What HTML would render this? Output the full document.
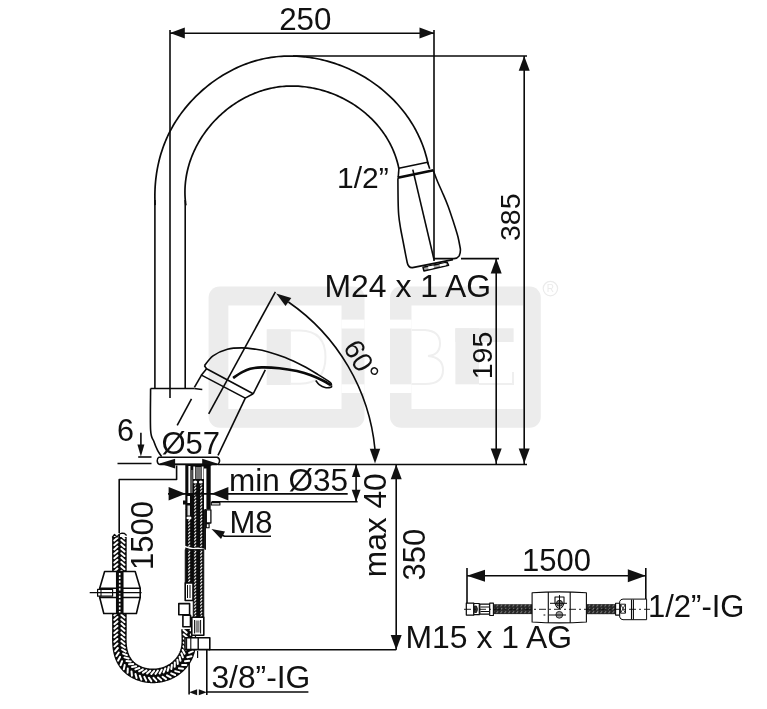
<!DOCTYPE html>
<html><head><meta charset="utf-8"><style>
html,body{margin:0;padding:0;background:#fff;}
svg{display:block;will-change:transform;}
text{font-family:"Liberation Sans", sans-serif;}
</style></head><body>
<svg width="767" height="709" viewBox="0 0 767 709">
<defs>
<pattern id="braid" width="3.6" height="6" patternUnits="userSpaceOnUse">
<rect width="3.6" height="6" fill="#0a0a0a"/>
<path d="M0.9,4.4 L2.6,1.8" stroke="#fff" stroke-width="1.3" stroke-linecap="round" fill="none"/>
<path d="M0.9,1.4 L2.6,-1.2 M0.9,7.4 L2.6,4.8" stroke="none" fill="none"/>
</pattern>
<pattern id="braidS" width="6" height="3.2" patternUnits="userSpaceOnUse">
<rect width="6" height="3.2" fill="#0a0a0a"/>
<path d="M2.6,2.4 L3.8,1.0" stroke="#fff" stroke-width="1.1" stroke-linecap="round" fill="none"/>
</pattern>
<pattern id="braidH" width="4" height="3.3" patternUnits="userSpaceOnUse">
<rect width="4" height="3.3" fill="#262626"/>
<path d="M0.5,2.6 L2.2,0.8" stroke="#8a8a8a" stroke-width="0.9" fill="none"/>
</pattern>
</defs>
<rect width="767" height="709" fill="#fff"/>
<g><rect x="208.6" y="286.6" width="155.9" height="141.2" rx="11" fill="#ececec"/>
<rect x="390" y="286.6" width="150.8" height="141.2" rx="11" fill="#ececec"/>
<rect x="228.4" y="305.5" width="113.1" height="103.5" fill="#fff"/>
<rect x="411.5" y="305.5" width="111.5" height="103.5" fill="#fff"/>
<rect x="341.5" y="319.6" width="23.0" height="8.9" fill="#fff"/>
<rect x="341.5" y="384.3" width="23.0" height="8.7" fill="#fff"/>
<rect x="390.0" y="319.6" width="21.5" height="8.9" fill="#fff"/>
<rect x="390.0" y="384.3" width="21.5" height="8.7" fill="#fff"/>
<rect x="266.7" y="329.2" width="24.1" height="55.8" fill="#ececec"/>
<path d="M290.8,330.5 L300,330.5 Q325.5,331 325.5,357 Q325.5,383.5 300,383.8 L290.8,383.8" fill="none" stroke="#efefef" stroke-width="2"/>
<path d="M411.5,330 L425,330 Q440,331 440,343.5 Q440,355 428,356 Q443,357.5 443,370 Q443,384 425,384 L411.5,384" fill="none" stroke="#efefef" stroke-width="2"/>
<rect x="455.4" y="328.3" width="58.2" height="13.7" fill="#ececec"/>
<rect x="455.4" y="328.3" width="23.6" height="56" fill="#ececec"/>
<path d="M479,384 L513,384 L513,372" fill="none" stroke="#efefef" stroke-width="2"/>
<circle cx="550.4" cy="288.6" r="7.2" fill="none" stroke="#ebebeb" stroke-width="1.2"/>
<text x="550.4" y="292.2" font-size="10" text-anchor="middle" fill="#ebebeb" font-family="Liberation Sans, sans-serif">R</text></g>
<g fill="none" stroke="#0a0a0a" stroke-width="1.6" stroke-linecap="butt" stroke-linejoin="round">
<line x1="170.0" y1="33.2" x2="434.0" y2="33.2"/>
<path fill="#111" stroke="none" d="M170.0,33.0 L184.8,27.5 L184.8,38.5 Z"/>
<path fill="#111" stroke="none" d="M434.3,33.0 L419.5,38.5 L419.5,27.5 Z"/>
<line x1="170.0" y1="30.0" x2="170.0" y2="398.0"/>
<line x1="434.0" y1="30.0" x2="434.0" y2="261.0"/>
<line x1="293.0" y1="56.0" x2="527.0" y2="56.0"/>
<line x1="524.2" y1="56.0" x2="524.2" y2="464.5"/>
<path fill="#111" stroke="none" d="M524.2,56.0 L529.7,70.8 L518.7,70.8 Z"/>
<path fill="#111" stroke="none" d="M524.2,463.2 L518.7,448.4 L529.7,448.4 Z"/>
<line x1="461.0" y1="258.6" x2="499.0" y2="258.6"/>
<line x1="496.2" y1="259.0" x2="496.2" y2="464.5"/>
<path fill="#111" stroke="none" d="M496.2,258.6 L501.7,273.4 L490.7,273.4 Z"/>
<path fill="#111" stroke="none" d="M496.2,463.2 L490.7,448.4 L501.7,448.4 Z"/>
<line x1="218.0" y1="464.5" x2="527.0" y2="464.5"/>
<line x1="154.9" y1="388.0" x2="154.9" y2="200.0"/>
<path d="M155.10,205.09 L154.98,202.44 L154.91,199.80 L154.87,197.16 L154.88,194.52 L154.93,191.89 L155.03,189.27 L155.16,186.66 L155.35,184.05 L155.57,181.46 L155.84,178.87 L156.16,176.29 L156.52,173.72 L156.92,171.16 L157.37,168.62 L157.86,166.08 L158.40,163.56 L158.99,161.05 L159.62,158.55 L160.29,156.06 L161.02,153.60 L161.79,151.14 L162.60,148.70 L163.46,146.28 L164.37,143.88 L165.33,141.49 L166.33,139.12 L167.38,136.76 L168.48,134.43 L169.62,132.12 L170.82,129.82 L172.06,127.55 L173.34,125.29 L174.68,123.06 L176.06,120.86 L177.48,118.67 L178.95,116.51 L180.46,114.38 L182.01,112.27 L183.60,110.19 L185.23,108.13 L186.90,106.11 L188.61,104.11 L190.36,102.14 L192.14,100.20 L193.96,98.30 L195.82,96.42 L197.71,94.58 L199.63,92.77 L201.59,91.00 L203.57,89.26 L205.59,87.56 L207.64,85.89 L209.71,84.26 L211.82,82.67 L213.95,81.12 L216.11,79.60 L218.30,78.13 L220.51,76.70 L222.74,75.31 L225.00,73.96 L227.28,72.65 L229.58,71.39 L231.90,70.18 L234.24,69.01 L236.60,67.88 L238.98,66.81 L241.38,65.78 L243.79,64.80 L246.22,63.87 L248.66,62.98 L251.12,62.15 L253.59,61.38 L256.07,60.65 L258.56,59.98 L261.07,59.36 L263.58,58.79 L266.11,58.28 L268.64,57.82 L271.18,57.41 L273.72,57.06 L276.27,56.76 L278.83,56.51 L281.39,56.31 L283.96,56.17 L286.52,56.07 L289.09,56.02 L291.66,56.03 L294.23,56.08 L296.80,56.18 L299.37,56.33 L301.94,56.54 L304.50,56.78 L307.06,57.08 L309.61,57.42 L312.16,57.81 L314.71,58.25 L317.25,58.74 L319.77,59.27 L322.30,59.84 L324.81,60.46 L327.31,61.13 L329.80,61.84 L332.28,62.59 L334.75,63.39 L337.20,64.23 L339.64,65.12 L342.07,66.05 L344.48,67.02 L346.87,68.03 L349.24,69.08 L351.60,70.18 L353.94,71.31 L356.26,72.49 L358.56,73.71 L360.84,74.97 L363.10,76.26 L365.33,77.60 L367.54,78.97 L369.73,80.39 L371.89,81.84 L374.02,83.33 L376.13,84.86 L378.21,86.42 L380.26,88.02 L382.29,89.66 L384.28,91.33 L386.25,93.04 L388.18,94.78 L390.08,96.56 L391.94,98.37 L393.78,100.22 L395.57,102.10 L397.34,104.02 L399.06,105.96 L400.75,107.95 L402.41,109.96 L404.02,112.00 L405.59,114.08 L407.13,116.19 L408.62,118.33 L410.07,120.50 L411.48,122.70 L412.85,124.93 L414.17,127.19 L415.45,129.47 L416.68,131.79 L417.86,134.14 L419.00,136.51 L420.09,138.91 L421.13,141.34 L422.12,143.80 L423.06,146.28 L423.95,148.79 L424.79,151.32 L425.57,153.88 L426.30,156.47 L426.98,159.08 L427.60,161.71 L428.16,164.37" stroke-width="1.7"/>
<line x1="185.2" y1="388.0" x2="185.2" y2="200.0"/>
<path d="M185.89,205.44 L185.61,203.32 L185.38,201.20 L185.20,199.08 L185.06,196.98 L184.98,194.87 L184.94,192.77 L184.95,190.68 L185.01,188.60 L185.11,186.52 L185.26,184.45 L185.45,182.39 L185.69,180.33 L185.97,178.29 L186.30,176.25 L186.66,174.23 L187.07,172.21 L187.52,170.21 L188.02,168.21 L188.55,166.23 L189.12,164.26 L189.73,162.31 L190.38,160.37 L191.07,158.44 L191.80,156.53 L192.57,154.63 L193.37,152.74 L194.20,150.88 L195.08,149.02 L195.98,147.19 L196.93,145.37 L197.90,143.57 L198.91,141.79 L199.96,140.03 L201.03,138.28 L202.14,136.56 L203.28,134.86 L204.45,133.17 L205.65,131.51 L206.88,129.87 L208.14,128.26 L209.43,126.66 L210.74,125.09 L212.08,123.54 L213.45,122.01 L214.85,120.51 L216.27,119.04 L217.72,117.59 L219.19,116.17 L220.69,114.77 L222.21,113.40 L223.76,112.06 L225.32,110.74 L226.91,109.46 L228.52,108.20 L230.15,106.97 L231.81,105.77 L233.48,104.61 L235.17,103.47 L236.88,102.37 L238.61,101.29 L240.36,100.25 L242.12,99.24 L243.90,98.27 L245.70,97.33 L247.51,96.42 L249.34,95.55 L251.18,94.71 L253.04,93.91 L254.90,93.14 L256.79,92.42 L258.68,91.73 L260.59,91.07 L262.51,90.46 L264.44,89.88 L266.38,89.34 L268.32,88.84 L270.28,88.39 L272.25,87.97 L274.22,87.59 L276.21,87.26 L278.20,86.96 L280.19,86.71 L282.19,86.50 L284.20,86.33 L286.21,86.19 L288.22,86.10 L290.24,86.05 L292.25,86.03 L294.27,86.05 L296.29,86.12 L298.31,86.22 L300.33,86.36 L302.35,86.53 L304.37,86.75 L306.38,87.00 L308.39,87.29 L310.40,87.61 L312.40,87.98 L314.40,88.38 L316.39,88.81 L318.37,89.28 L320.35,89.78 L322.31,90.33 L324.27,90.90 L326.22,91.51 L328.16,92.16 L330.09,92.83 L332.01,93.55 L333.92,94.29 L335.81,95.07 L337.69,95.89 L339.56,96.73 L341.41,97.61 L343.24,98.52 L345.06,99.46 L346.86,100.44 L348.65,101.44 L350.42,102.48 L352.16,103.55 L353.89,104.65 L355.60,105.78 L357.29,106.94 L358.95,108.13 L360.60,109.35 L362.22,110.60 L363.82,111.88 L365.39,113.18 L366.94,114.52 L368.46,115.88 L369.96,117.28 L371.43,118.70 L372.87,120.14 L374.28,121.62 L375.67,123.12 L377.02,124.65 L378.35,126.21 L379.64,127.79 L380.90,129.40 L382.13,131.03 L383.33,132.69 L384.50,134.38 L385.62,136.09 L386.72,137.82 L387.78,139.58 L388.80,141.36 L389.78,143.17 L390.73,145.00 L391.64,146.86 L392.51,148.73 L393.34,150.63 L394.13,152.56 L394.88,154.50 L395.59,156.47 L396.25,158.46 L396.87,160.47 L397.45,162.51 L397.98,164.56 L398.47,166.63 L398.91,168.73" stroke-width="1.7"/>
<path d="M398.8,168.3 L427.6,162.3 L429.7,168.7"/>
<line x1="398.9" y1="168.5" x2="398.2" y2="177.5"/>
<line x1="397.7" y1="177.8" x2="433.5" y2="170.3" stroke-width="2.6"/>
<path d="M397.9,178.3 C397.9,181.9 398.0,193.9 398.1,200.0 C398.2,206.1 398.3,210.3 398.7,215.0 C399.1,219.7 399.8,223.7 400.5,228.0 C401.2,232.3 402.2,236.8 403.0,241.0 C403.8,245.2 404.6,249.4 405.3,253.0 C406.0,256.6 406.9,260.9 407.2,262.5 Q408.3,268 412.5,267.6 L453,259.6"/>
<path d="M433.3,170.5 C434.0,172.3 435.9,177.7 437.5,181.5 C439.1,185.3 441.1,189.4 442.8,193.5 C444.6,197.6 446.2,201.2 448.0,206.0 C449.8,210.8 451.9,217.3 453.6,222.5 C455.3,227.7 456.9,232.6 458.0,237.0 C459.1,241.4 460.0,247.0 460.4,249.0 Q460.8,258.4 454,258.6 L434,258.6"/>
<line x1="412.8" y1="169.6" x2="434.0" y2="259.5"/>
<path d="M423.0,267.3 L447.2,262.2 L448.6,265.2 L423.9,270.9 Z" fill="#aaa" stroke-width="1.5"/>
<path d="M428.0,266.6 L433.5,265.5 L434.0,268.0 L428.6,269.2 Z" fill="#fff" stroke="none"/>
<path d="M439.5,264.2 L445.5,263.0 L446.2,265.3 L440.0,266.6 Z" fill="#fff" stroke="none"/>
<path d="M150.6,388.5 C150.6,395.4 150.1,421.2 150.6,430.0 C151.1,438.8 152.6,437.9 153.8,441.3 C155.0,444.8 156.4,448.1 157.7,450.7 C159.0,453.2 160.9,455.6 161.6,456.6"/>
<line x1="150.6" y1="388.5" x2="194.4" y2="388.5"/>
<path d="M194.4,388.5 L200.0,389.2 L202.3,389.5"/>
<line x1="194.4" y1="387.3" x2="201.5" y2="375.1"/>
<path d="M204.4,365.8 L206.6,368.7 L253.2,393.8"/>
<path d="M206.6,368.7 L201.5,375.1 L245.3,398.1 L253.2,393.8"/>
<path d="M204.4,365.8 C205.8,364.1 209.2,358.6 213.0,355.8 C216.8,353.1 222.6,350.6 227.4,349.3 C232.2,348.0 236.9,347.9 241.7,347.9 C246.5,347.9 251.7,348.7 256.0,349.3 C260.3,349.9 262.7,350.3 267.6,351.7 C272.5,353.1 279.3,355.2 285.2,357.6 C291.1,360.0 297.3,363.0 302.8,365.8 C308.3,368.6 313.6,371.9 318.1,374.6 C322.6,377.3 327.6,380.4 329.8,382.2 C332.1,384.0 331.3,384.9 331.6,385.5"/>
<path d="M331.6,385.5 C331.5,385.8 332.1,386.9 331.0,387.2 C329.9,387.5 327.1,387.9 325.1,387.5 C323.1,387.1 320.8,385.8 319.2,384.6 C317.6,383.4 316.3,381.2 315.7,380.5"/>
<path d="M233.1,378.0 C234.5,377.1 238.8,373.9 241.7,372.3 C244.6,370.8 247.0,369.5 250.3,368.7 C253.6,367.9 256.9,367.5 261.7,367.4 C266.5,367.3 273.4,367.6 279.3,368.2 C285.2,368.8 291.6,369.9 296.9,371.1 C302.2,372.3 306.7,373.6 311.0,375.2 C315.3,376.8 319.5,378.8 322.8,380.5 C326.1,382.2 329.6,384.4 331.0,385.2" stroke-width="2.6"/>
<line x1="253.2" y1="393.8" x2="265.3" y2="369.9"/>
<line x1="245.3" y1="398.1" x2="218.0" y2="455.4"/>
<line x1="275.4" y1="291.8" x2="208.7" y2="413.9"/>
<line x1="191.5" y1="398.8" x2="177.2" y2="425.3"/>
<path d="M159,457.2 L217.3,457.2 Q219.6,458.2 219.6,461 Q219.2,464 217,464.6 L160,464.6 Q157.2,463.8 157.2,460.8 Q157.4,458 159,457.2 Z" fill="#fff" stroke-width="1.5"/>
<line x1="160.0" y1="464.1" x2="217.0" y2="464.1" stroke-width="1.3"/>
<path fill="#111" stroke="none" d="M159.6,463.6 L175.1,458.8 L175.1,468.4 Z"/>
<path fill="#111" stroke="none" d="M217.2,463.6 L202.2,468.4 L202.2,458.8 Z"/>
<path d="M375.0,449.5 A202.5,202.5 0 0 0 288.4,302"/>
<path fill="#111" stroke="none" d="M375.0,463.5 L369.8,448.8 L380.2,448.8 Z"/>
<path fill="#111" stroke="none" d="M276.2,293.4 L291.3,297.9 L285.5,306.1 Z"/>
<line x1="140.9" y1="432.7" x2="140.9" y2="450.0"/>
<path fill="#111" stroke="none" d="M140.9,456.5 L137.4,444.5 L144.4,444.5 Z"/>
<line x1="138.2" y1="457.0" x2="151.5" y2="457.0"/>
<line x1="117.5" y1="463.5" x2="151.5" y2="463.5"/>
<path d="M176.6,465.4 L176.6,479.5 L119.2,479.5 L119.2,537.0"/>
<rect x="185.3" y="464.5" width="25.4" height="45" fill="#0a0a0a" stroke="none"/>
<rect x="185.3" y="509" width="19.6" height="40.5" fill="#0a0a0a" stroke="none"/>
<rect x="188.4" y="466" width="2.0" height="27.5" fill="#fff" stroke="none"/>
<rect x="204.0" y="468.5" width="2.4" height="41" fill="#fff" stroke="none"/>
<rect x="193.3" y="466.5" width="1.8" height="12.5" fill="#fff" stroke="none"/>
<rect x="201.7" y="466.5" width="1.8" height="12.5" fill="#fff" stroke="none"/>
<rect x="195.6" y="467" width="5.6" height="12" fill="#777" stroke="none"/>
<rect x="190.6" y="470" width="2.2" height="24" fill="#555" stroke="none"/>
<ellipse cx="195.3" cy="482" rx="1.9" ry="1.5" fill="#fff" stroke="none"/>
<ellipse cx="200.8" cy="482" rx="1.9" ry="1.5" fill="#fff" stroke="none"/>
<rect x="192.9" y="484.5" width="11" height="64" fill="url(#braidS)" stroke="none"/>
<rect x="185.9" y="519" width="7" height="29.5" fill="url(#braidS)" stroke="none"/>
<rect x="187.5" y="496" width="2.5" height="7" fill="#fff" stroke="none"/>
<rect x="187.5" y="505.5" width="2.5" height="10" fill="#ddd" stroke="none"/>
<ellipse cx="189" cy="518" rx="2.6" ry="1.4" fill="#fff" stroke="none"/>
<rect x="183" y="500.5" width="3" height="4" fill="#0a0a0a" stroke="none"/>
<path d="M184.8,546.5 L189,547.8 L193,548.8 L198,548.2 L204.5,549.4" stroke="#fff" stroke-width="1.4" fill="none"/>
<rect x="185.2" y="549.5" width="8" height="33.5" fill="url(#braidS)" stroke="#0a0a0a" stroke-width="0.8"/>
<rect x="193.2" y="549.5" width="10.6" height="67.7" fill="url(#braidS)" stroke="#0a0a0a" stroke-width="0.8"/>
<line x1="205.3" y1="509.0" x2="205.3" y2="549.8" stroke-width="1.3"/>
<rect x="206.3" y="509.8" width="4.6" height="13.2" fill="#fff" stroke-width="1.3"/>
<rect x="206.3" y="523.6" width="2.8" height="4.2" fill="#fff" stroke-width="1.1"/>
<rect x="211.3" y="502.6" width="8.6" height="2.4" fill="#fff" stroke-width="1.1"/>
<line x1="168.0" y1="493.9" x2="347.7" y2="493.9"/>
<path fill="#111" stroke="none" d="M185.6,493.8 L168.6,500.6 L168.6,487.1 Z"/>
<path fill="#111" stroke="none" d="M211.4,493.8 L228.4,487.1 L228.4,500.6 Z"/>
<line x1="211.5" y1="501.8" x2="357.6" y2="501.8"/>
<line x1="356.1" y1="464.5" x2="356.1" y2="501.8"/>
<path fill="#111" stroke="none" d="M356.1,464.6 L360.4,477.1 L351.9,477.1 Z"/>
<path fill="#111" stroke="none" d="M356.1,501.8 L351.7,489.8 L360.5,489.8 Z"/>
<path d="M271.0,536.3 L224.4,536.3 L217.0,532.5"/>
<path fill="#111" stroke="none" d="M211.5,529.0 L225.0,531.4 L221.0,538.9 Z"/>
<line x1="396.2" y1="464.5" x2="396.2" y2="649.8"/>
<path fill="#111" stroke="none" d="M396.2,464.5 L401.7,479.3 L390.7,479.3 Z"/>
<path fill="#111" stroke="none" d="M396.2,649.8 L390.7,635.0 L401.7,635.0 Z"/>
<line x1="208.6" y1="649.8" x2="396.2" y2="649.8"/>
<line x1="206.8" y1="649.8" x2="206.8" y2="695.0"/>
<line x1="189.1" y1="650.0" x2="189.1" y2="694.5"/>
<line x1="206.8" y1="692.0" x2="308.4" y2="692.0"/>
<path fill="#111" stroke="none" d="M189.1,692.3 L197.1,689.3 L197.1,695.3 Z"/>
<path fill="#111" stroke="none" d="M206.8,692.3 L198.8,695.3 L198.8,689.3 Z"/>
<line x1="197.6" y1="651.0" x2="197.6" y2="658.0" stroke-width="1.2"/>
<path d="M119.40,537.00 L119.40,537.57 L119.40,538.13 L119.40,538.70 L119.40,539.26 L119.40,539.83 L119.40,540.40 L119.40,540.96 L119.40,541.53 L119.40,542.09 L119.40,542.66 L119.40,543.23 L119.40,543.79 L119.40,544.36 L119.40,544.92 L119.40,545.49 L119.40,546.06 L119.40,546.62 L119.40,547.19 L119.40,547.75 L119.40,548.32 L119.40,548.89 L119.40,549.45 L119.40,550.02 L119.40,550.58 L119.40,551.15 L119.40,551.72 L119.40,552.28 L119.40,552.85 L119.40,553.41 L119.40,553.98 L119.40,554.55 L119.40,555.11 L119.40,555.68 L119.40,556.24 L119.40,556.81 L119.40,557.38 L119.40,557.94 L119.40,558.51 L119.40,559.07 L119.40,559.64 L119.40,560.21 L119.40,560.77 L119.40,561.34 L119.40,561.90 L119.40,562.47 L119.40,563.04 L119.40,563.60 L119.40,564.17 L119.40,564.73 L119.40,565.30 L119.40,565.87 L119.40,566.43 L119.40,567.00 L119.40,567.56 L119.40,568.13 L119.40,568.70 L119.40,569.26 L119.40,569.83 L119.40,570.39 L119.40,570.96 L119.40,571.53 L119.40,572.09 L119.40,572.66 L119.40,573.22 L119.40,573.79 L119.40,574.36 L119.40,574.92 L119.40,575.49 L119.40,576.05 L119.40,576.62 L119.40,577.19 L119.40,577.75 L119.40,578.32 L119.40,578.88 L119.40,579.45 L119.40,580.02 L119.40,580.58 L119.40,581.15 L119.40,581.71 L119.40,582.28 L119.40,582.85 L119.40,583.41 L119.40,583.98 L119.40,584.54 L119.40,585.11 L119.40,585.68 L119.40,586.24 L119.40,586.81 L119.40,587.37 L119.40,587.94 L119.40,588.51 L119.40,589.07 L119.40,589.64 L119.40,590.20 L119.40,590.77 L119.40,591.34 L119.40,591.90 L119.40,592.47 L119.40,593.03 L119.40,593.60 L119.40,594.17 L119.40,594.73 L119.40,595.30 L119.40,595.86 L119.40,596.43 L119.40,597.00 L119.40,597.56 L119.40,598.13 L119.40,598.69 L119.40,599.26 L119.40,599.83 L119.40,600.39 L119.40,600.96 L119.39,601.52 L119.39,602.09 L119.39,602.66 L119.39,603.22 L119.39,603.79 L119.39,604.35 L119.39,604.92 L119.39,605.49 L119.39,606.05 L119.39,606.62 L119.39,607.18 L119.39,607.75 L119.39,608.32 L119.39,608.88 L119.39,609.45 L119.39,610.01 L119.39,610.58 L119.39,611.15 L119.39,611.71 L119.39,612.28 L119.39,612.84 L119.39,613.41 L119.39,613.98 L119.39,614.54 L119.39,615.11 L119.40,615.67 L119.40,616.24 L119.40,616.81 L119.40,617.37 L119.40,617.94 L119.41,618.50 L119.41,619.07 L119.41,619.64 L119.41,620.20 L119.42,620.77 L119.42,621.34 L119.42,621.90 L119.42,622.47 L119.43,623.03 L119.43,623.60 L119.43,624.17 L119.43,624.73 L119.43,625.30 L119.43,625.86 L119.43,626.43 L119.43,627.00 L119.43,627.56 L119.43,628.13 L119.43,628.69 L119.42,629.26 L119.42,629.83 L119.42,630.39 L119.41,630.96 L119.41,631.52 L119.40,632.09 L119.39,632.65 L119.38,633.22 L119.38,633.79 L119.37,634.35 L119.36,634.92 L119.35,635.48 L119.35,636.05 L119.34,636.61 L119.34,637.18 L119.33,637.74 L119.33,638.31 L119.34,638.88 L119.34,639.44 L119.35,640.01 L119.36,640.58 L119.37,641.14 L119.39,641.71 L119.41,642.28 L119.44,642.84 L119.47,643.41 L119.50,643.98 L119.54,644.55 L119.59,645.11 L119.64,645.68 L119.69,646.24 L119.75,646.81 L119.82,647.37 L119.90,647.94 L119.98,648.50 L120.06,649.06 L120.16,649.62 L120.26,650.18 L120.37,650.73 L120.49,651.29 L120.61,651.84 L120.74,652.39 L120.89,652.94 L121.04,653.49 L121.19,654.04 L121.36,654.58 L121.54,655.12 L121.73,655.66 L121.92,656.19 L122.13,656.72 L122.35,657.25 L122.57,657.78 L122.81,658.30 L123.05,658.81 L123.30,659.32 L123.57,659.83 L123.84,660.33 L124.12,660.83 L124.41,661.32 L124.71,661.81 L125.02,662.28 L125.34,662.76 L125.67,663.22 L126.00,663.68 L126.35,664.13 L126.71,664.58 L127.07,665.01 L127.45,665.44 L127.83,665.86 L128.22,666.27 L128.62,666.67 L129.03,667.07 L129.45,667.45 L129.88,667.83 L130.31,668.20 L130.75,668.56 L131.20,668.91 L131.65,669.25 L132.12,669.59 L132.59,669.92 L133.06,670.23 L133.54,670.54 L134.03,670.84 L134.52,671.13 L135.02,671.42 L135.52,671.69 L136.03,671.96 L136.54,672.22 L137.06,672.46 L137.58,672.70 L138.11,672.94 L138.63,673.16 L139.17,673.37 L139.70,673.58 L140.24,673.77 L140.78,673.96 L141.32,674.14 L141.87,674.31 L142.42,674.47 L142.97,674.62 L143.52,674.76 L144.08,674.90 L144.63,675.03 L145.19,675.14 L145.75,675.25 L146.32,675.35 L146.88,675.44 L147.45,675.53 L148.01,675.60 L148.58,675.67 L149.15,675.73 L149.72,675.78 L150.29,675.82 L150.86,675.85 L151.43,675.87 L152.00,675.89 L152.57,675.90 L153.14,675.90 L153.71,675.89 L154.29,675.87 L154.86,675.84 L155.43,675.81 L156.00,675.76 L156.57,675.71 L157.14,675.65 L157.70,675.59 L158.27,675.51 L158.84,675.43 L159.40,675.34 L159.96,675.24 L160.52,675.13 L161.08,675.01 L161.64,674.89 L162.20,674.75 L162.75,674.61 L163.30,674.46 L163.85,674.31 L164.40,674.14 L164.94,673.97 L165.48,673.78 L166.02,673.59 L166.55,673.40 L167.09,673.19 L167.61,672.98 L168.14,672.75 L168.66,672.52 L169.17,672.29 L169.69,672.04 L170.20,671.79 L170.70,671.52 L171.20,671.25 L171.70,670.97 L172.19,670.69 L172.67,670.39 L173.15,670.09 L173.63,669.78 L174.10,669.46 L174.57,669.14 L175.03,668.80 L175.48,668.46 L175.93,668.12 L176.38,667.76 L176.81,667.40 L177.25,667.03 L177.67,666.65 L178.09,666.27 L178.51,665.88 L178.91,665.48 L179.32,665.08 L179.71,664.67 L180.10,664.25 L180.48,663.83 L180.86,663.40 L181.23,662.96 L181.59,662.52 L181.94,662.07 L182.29,661.62 L182.63,661.16 L182.96,660.70 L183.29,660.23 L183.60,659.75 L183.91,659.27 L184.21,658.79 L184.51,658.30 L184.79,657.80 L185.06,657.30 L185.33,656.80 L185.59,656.29 L185.83,655.78 L186.07,655.26 L186.30,654.74 L186.51,654.22 L186.72,653.69 L186.91,653.16 L187.10,652.62 L187.27,652.09 L187.44,651.55 L187.59,651.00 L187.73,650.46 L187.86,649.91 L187.98,649.35 L188.09,648.80 L188.19,648.24 L188.29,647.68 L188.37,647.12 L188.45,646.56 L188.52,646.00 L188.58,645.43 L188.63,644.87 L188.68,644.30 L188.72,643.73 L188.75,643.16 L188.78,642.59 L188.80,642.01 L188.82,641.44 L188.83,640.87 L188.83,640.30 L188.84,639.72 L188.84,639.15 L188.83,638.58 L188.82,638.01 L188.81,637.43 L188.80,636.86 L188.78,636.29 L188.76,635.72 L188.74,635.15 L188.72,634.58 L188.70,634.02 L188.67,633.45 L188.65,632.89 L188.62,632.33 L188.60,631.77 L188.58,631.21 L188.56,630.65 L188.54,630.10 L188.52,629.55 L188.50,629.00" stroke="#0a0a0a" stroke-width="14.6" stroke-linecap="butt"/>
<path d="M121.3,535.6 L124.5,538.4 M117.5,537.8 L114.3,540.6 M121.3,540.0 L124.5,542.8 M117.5,542.2 L114.3,545.0 M121.3,544.4 L124.5,547.2 M117.5,546.6 L114.3,549.4 M121.3,548.8 L124.5,551.6 M117.5,551.0 L114.3,553.8 M121.3,553.2 L124.5,556.0 M117.5,555.4 L114.3,558.2 M121.3,557.6 L124.5,560.4 M117.5,559.8 L114.3,562.6 M121.3,562.0 L124.5,564.8 M117.5,564.2 L114.3,567.0 M121.3,566.4 L124.5,569.2 M117.5,568.6 L114.3,571.4 M121.3,570.8 L124.5,573.6 M117.5,573.0 L114.3,575.8 M121.3,575.2 L124.5,578.0 M117.5,577.4 L114.3,580.2 M121.3,579.6 L124.5,582.4 M117.5,581.8 L114.3,584.6 M121.3,584.0 L124.5,586.8 M117.5,586.2 L114.3,589.0 M121.3,588.4 L124.5,591.2 M117.5,590.6 L114.3,593.4 M121.3,592.8 L124.5,595.6 M117.5,595.0 L114.3,597.8 M121.3,597.2 L124.5,600.0 M117.5,599.4 L114.3,602.2 M121.3,601.6 L124.5,604.4 M117.5,603.8 L114.3,606.6 M121.3,606.0 L124.4,608.8 M117.4,608.2 L114.3,611.0 M121.3,610.4 L124.5,613.2 M117.4,612.6 L114.3,615.4 M121.3,614.8 L124.5,617.6 M117.5,617.0 L114.3,619.8 M121.3,619.2 L124.5,622.0 M117.5,621.4 L114.4,624.2 M121.4,623.6 L124.5,626.4 M117.5,625.8 L114.4,628.6 M121.4,628.0 L124.5,630.8 M117.5,630.2 L114.3,633.0 M121.3,632.4 L124.4,635.3 M117.4,634.6 L114.3,637.3 M121.3,636.8 L124.4,639.6 M117.4,639.0 L114.3,641.8 M121.3,641.1 L124.5,643.8 M117.5,643.5 L114.5,646.4 M121.5,645.4 L125.0,647.8 M117.9,648.0 L115.2,651.2 M122.1,649.5 L125.7,651.6 M118.8,652.5 L116.4,656.0 M123.1,653.6 L126.9,655.2 M120.1,656.9 L118.1,660.6 M124.5,657.4 L128.6,658.5 M122.1,661.2 L120.6,665.1 M126.5,661.0 L130.7,661.5 M124.7,665.1 L123.8,669.2 M129.0,664.3 L133.2,664.1 M127.8,668.6 L127.6,672.8 M132.0,667.1 L136.1,666.2 M131.5,671.5 L131.9,675.7 M135.4,669.4 L139.3,668.0 M135.5,673.9 L136.6,678.0 M139.1,671.3 L142.8,669.3 M139.8,675.7 L141.4,679.6 M143.0,672.6 L146.5,670.3 M144.3,676.9 L146.2,680.6 M147.1,673.5 L150.3,670.8 M148.8,677.7 L151.3,681.1 M151.3,674.0 L154.1,670.8 M153.5,677.8 L156.3,680.9 M155.5,673.9 L157.9,670.5 M158.0,677.5 L161.2,680.3 M159.6,673.4 L161.7,669.7 M162.6,676.7 L166.0,679.1 M163.6,672.4 L165.3,668.5 M167.0,675.3 L170.7,677.3 M167.6,670.9 L168.8,666.9 M171.2,673.4 L175.1,675.0 M171.3,669.0 L171.9,664.9 M175.2,671.1 L179.3,672.1 M174.7,666.7 L174.8,662.5 M178.9,668.2 L183.0,668.7 M177.8,663.9 L177.4,659.7 M182.1,664.9 L186.3,664.9 M180.5,660.8 L179.6,656.7 M185.0,661.2 L189.1,660.8 M182.9,657.3 L181.4,653.4 M187.3,657.2 L191.4,656.2 M184.7,653.7 L182.7,650.0 M189.1,652.8 L192.9,651.2 M185.9,649.7 L183.4,646.4 M190.2,648.3 L193.7,646.1 M186.6,645.6 L183.7,642.5 M190.7,643.7 L194.0,641.2 M186.9,641.4 L183.8,638.5 M190.8,639.2 L193.9,636.4 M186.9,637.0 L183.6,634.3 M190.7,634.7 L193.7,631.8 M186.7,632.6 L183.5,630.0 M190.5,630.3 L193.5,627.4" stroke="#fff" stroke-width="2.00" stroke-linecap="round" fill="none"/>
<path d="M111.8,537.5 L114.5,534 L117,537 L119.5,534 L122,533 L124.5,533.3 L127,535.8 L127,533 L111.8,533 Z" fill="#fff" stroke="none"/>
<path d="M112.2,537.5 L114.5,534.5 L117,537 L119.5,534 L122,533.2 L124.5,533.5 L126.6,535.5" fill="none" stroke-width="1.3"/>
<path d="M104.6,571.5 L135.2,571.5 L140.2,588.2 L140.2,597.5 L136.4,613.5 L103.8,613.5 L99.7,597.5 L99.7,588.2 Z" fill="#fff"/>
<line x1="99.7" y1="588.2" x2="140.2" y2="588.2"/>
<line x1="99.7" y1="597.5" x2="140.2" y2="597.5"/>
<rect x="116.5" y="571.5" width="6.5" height="42" fill="#0a0a0a" stroke="none"/>
<path d="M119.7,573 L119.7,612.5" stroke="#fff" stroke-width="1.6" stroke-dasharray="2.2,1.6" fill="none"/>
<line x1="116.5" y1="571.5" x2="116.5" y2="613.5" stroke-width="1.1"/>
<line x1="123.0" y1="571.5" x2="123.0" y2="613.5" stroke-width="1.1"/>
<rect x="97.6" y="589.4" width="15" height="6.8" fill="#fff" stroke-width="1.2"/>
<line x1="101.0" y1="589.4" x2="101.0" y2="596.2" stroke-width="1.1"/>
<line x1="89.7" y1="592.7" x2="141.6" y2="592.7" stroke-width="1.3"/>
<rect x="178.8" y="603.6" width="10.8" height="11.2" fill="#fff"/>
<rect x="182.9" y="615.2" width="7.6" height="11.5" fill="#fff"/>
<rect x="185.2" y="583" width="7.8" height="17.5" fill="#fff"/>
<line x1="187.5" y1="585.0" x2="187.5" y2="598.0" stroke-width="1"/>
<line x1="190.0" y1="585.0" x2="190.0" y2="598.0" stroke-width="1"/>
<rect x="191.8" y="617.2" width="12" height="18" fill="#fff"/>
<rect x="195.6" y="620.5" width="4" height="12" fill="#888" stroke="none"/>
<line x1="194.6" y1="620.0" x2="194.6" y2="633.5" stroke-width="1"/>
<line x1="200.6" y1="620.0" x2="200.6" y2="633.5" stroke-width="1"/>
<rect x="185" y="637.8" width="24.8" height="11.8" fill="#fff"/>
<line x1="186.6" y1="637.8" x2="186.6" y2="649.6" stroke-width="1.1"/>
<line x1="190.8" y1="637.8" x2="190.8" y2="649.6" stroke-width="1.1"/>
<line x1="198.2" y1="637.8" x2="198.2" y2="649.6" stroke-width="1.4"/>
<line x1="467.0" y1="568.0" x2="467.0" y2="614.6"/>
<line x1="645.8" y1="568.0" x2="645.8" y2="599.5"/>
<line x1="467.0" y1="575.7" x2="645.8" y2="575.7"/>
<path fill="#111" stroke="none" d="M467.0,575.7 L485.0,569.7 L485.0,581.7 Z"/>
<path fill="#111" stroke="none" d="M645.8,575.7 L627.8,582.2 L627.8,569.2 Z"/>
<rect x="493.4" y="604.2" width="39" height="9.9" fill="url(#braidH)" stroke="none"/>
<rect x="586.4" y="604.1" width="29.2" height="10.1" fill="url(#braidH)" stroke="none"/>
<rect x="466.3" y="603.1" width="7.5" height="12" fill="#fff" stroke-width="1.2"/>
<rect x="473.8" y="603.5" width="5.5" height="11.2" fill="#fff" stroke-width="1.2"/>
<path d="M474.5,606 L476.5,606 Q478.5,609.3 476.5,612.5 L474.5,612.5 Z" fill="#333" stroke-width="0.8"/>
<rect x="479.8" y="604.2" width="9.9" height="9.9" fill="#fff" stroke-width="1.2"/>
<line x1="480.5" y1="607.0" x2="489.0" y2="607.0" stroke-width="1"/>
<line x1="480.5" y1="611.5" x2="489.0" y2="611.5" stroke-width="1"/>
<rect x="489.7" y="603.1" width="3.7" height="12.4" fill="#fff" stroke-width="1.1"/>
<path d="M532.1,592.8 Q559,591 586.4,592.8 L586.4,622 Q559,623.8 532.1,622 Z" fill="#fff" stroke-width="1.1"/>
<line x1="548.3" y1="592.0" x2="548.3" y2="622.8" stroke-width="1.1"/>
<line x1="570.2" y1="592.0" x2="570.2" y2="622.8" stroke-width="1.1"/>
<path d="M555,597 L564,597 L564,603 Q563,607.5 559.5,608.5 Q556,607.5 555,603 Z" fill="#fff" stroke-width="1.1"/>
<circle cx="559.5" cy="603.3" r="3" fill="#777" stroke-width="0.9"/>
<line x1="550.0" y1="603.3" x2="567.0" y2="603.3" stroke-width="1"/>
<line x1="559.5" y1="595.1" x2="559.5" y2="608.8" stroke-width="1"/>
<circle cx="559.3" cy="614.8" r="3.4" fill="#999" stroke-width="0.8"/>
<line x1="549.0" y1="615.0" x2="566.0" y2="615.0" stroke-width="1"/>
<line x1="543.5" y1="615.0" x2="545.3" y2="615.0" stroke-width="1"/>
<rect x="615.6" y="603.2" width="4.1" height="11.9" fill="#fff" stroke-width="1.1"/>
<path d="M619.7,601.5 Q620.5,599.1 623,599.1 L646.6,599.1 L646.6,619.7 L623,619.7 Q620.5,619.7 619.7,617 Z" fill="#fff" stroke-width="1.0"/>
<rect x="620.5" y="604.2" width="5" height="9" fill="#fff" stroke-width="0.9"/>
<line x1="620.8" y1="604.5" x2="625.2" y2="612.8" stroke-width="0.8"/>
<line x1="625.2" y1="604.5" x2="620.8" y2="612.8" stroke-width="0.8"/>
<line x1="631.5" y1="599.5" x2="631.5" y2="619.5" stroke-width="1.1"/>
<line x1="633.4" y1="599.5" x2="633.4" y2="619.5" stroke-width="1.1"/>
<line x1="464" y1="609.3" x2="650" y2="609.3" stroke-width="0.9" stroke-dasharray="7,3,2,3"/>
</g>
<g fill="#111" font-family="Liberation Sans, sans-serif">
<text x="279.2" y="30.2" font-size="31.3" text-anchor="start">250</text>
<text x="520.0" y="241.0" font-size="28.5" text-anchor="start" transform="rotate(-90 520.0 241.0)">385</text>
<text x="492.4" y="379.3" font-size="28.5" text-anchor="start" transform="rotate(-90 492.4 379.3)">195</text>
<text x="337.0" y="188.0" font-size="30" text-anchor="start">1/2”</text>
<text x="324.5" y="296.6" font-size="31.9" text-anchor="start">M24 x 1 AG</text>
<text x="342.5" y="347.0" font-size="28" text-anchor="start" transform="rotate(60 342.5 347.0)">60°</text>
<text x="117.1" y="441.0" font-size="30.5" text-anchor="start">6</text>
<text x="161.5" y="453.8" font-size="31" text-anchor="start">Ø57</text>
<text x="229.0" y="490.8" font-size="31.5" text-anchor="start">min Ø35</text>
<text x="229.5" y="533.2" font-size="31" text-anchor="start">M8</text>
<text x="386.5" y="577.2" font-size="31.7" text-anchor="start" transform="rotate(-90 386.5 577.2)">max 40</text>
<text x="424.6" y="580.5" font-size="31" text-anchor="start" transform="rotate(-90 424.6 580.5)">350</text>
<text x="152.7" y="570.0" font-size="31" text-anchor="start" transform="rotate(-90 152.7 570.0)">1500</text>
<text x="211.4" y="688.0" font-size="31.8" text-anchor="start">3/8”-IG</text>
<text x="405.5" y="647.8" font-size="31.9" text-anchor="start">M15 x 1 AG</text>
<text x="522.0" y="571.4" font-size="31" text-anchor="start">1500</text>
<text x="648.0" y="616.8" font-size="31" text-anchor="start">1/2”-IG</text>
</g>
</svg>
</body></html>
